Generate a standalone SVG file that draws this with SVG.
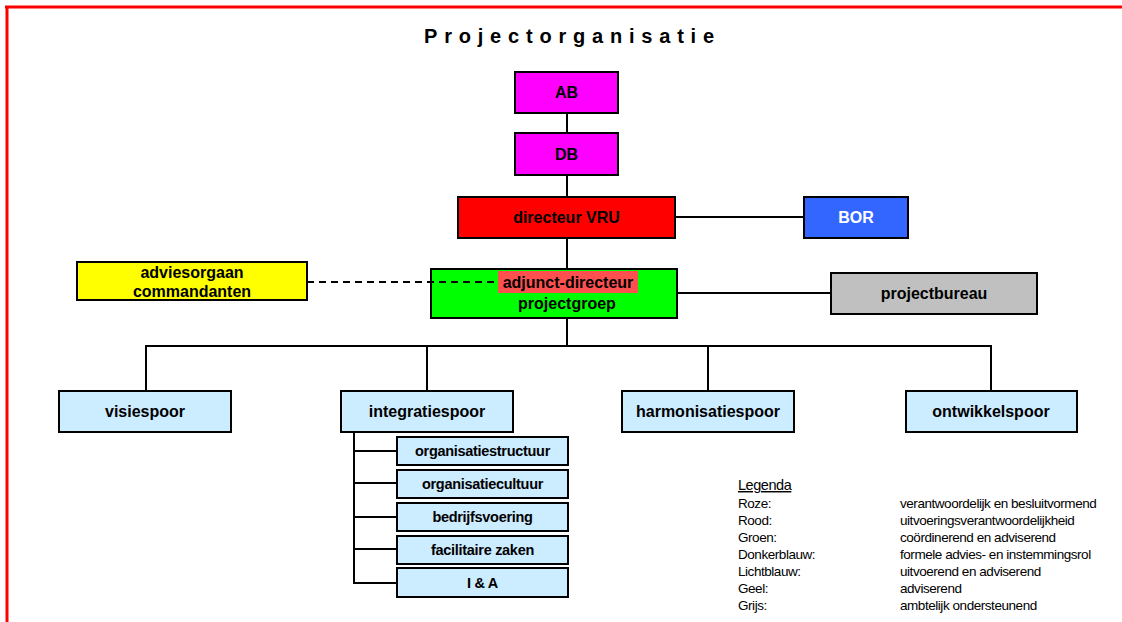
<svg xmlns="http://www.w3.org/2000/svg" width="1122" height="622" viewBox="0 0 1122 622">
<style>
.box{stroke:#000;stroke-width:2}
.lbl{font-family:"Liberation Sans",Arial,sans-serif;font-weight:bold;font-size:16px;fill:#000;text-anchor:middle}
.sub{font-family:"Liberation Sans",Arial,sans-serif;font-weight:bold;font-size:14.5px;letter-spacing:-0.3px;fill:#000;text-anchor:middle}
.leg{font-family:"Liberation Sans",Arial,sans-serif;font-size:13.5px;letter-spacing:-0.45px;fill:#000}
.con{stroke:#000;stroke-width:2;fill:none}
.lb{fill:#CCECFF}
</style>
<rect width="1122" height="622" fill="#fff"/>
<g id="frame">
<line x1="5" y1="7" x2="1122" y2="7" stroke="#FF0000" stroke-width="3"/>
<line x1="7" y1="6" x2="7" y2="622" stroke="#FF0000" stroke-width="3"/>
</g>
<text x="424" y="43" font-family="Liberation Sans,Arial,sans-serif" font-weight="bold" font-size="20" letter-spacing="6.8">Projectorganisatie</text>
<g id="connectors">
<line class="con" x1="567" y1="113" x2="567" y2="133"/>
<line class="con" x1="567" y1="175" x2="567" y2="197"/>
<line class="con" x1="567" y1="238" x2="567" y2="269"/>
<line class="con" x1="567" y1="318" x2="567" y2="346"/>
<line class="con" x1="675" y1="217" x2="804" y2="217"/>
<line class="con" x1="677" y1="293" x2="831" y2="293"/>
<polyline class="con" points="146,391 146,346 991,346 991,391"/>
<line class="con" x1="427" y1="346" x2="427" y2="391"/>
<line class="con" x1="708" y1="346" x2="708" y2="391"/>
<polyline class="con" points="354,432 354,583 397,583"/>
<line class="con" x1="354" y1="451" x2="397" y2="451"/>
<line class="con" x1="354" y1="483" x2="397" y2="483"/>
<line class="con" x1="354" y1="517" x2="397" y2="517"/>
<line class="con" x1="354" y1="549" x2="397" y2="549"/>
</g>
<g id="AB"><rect class="box" x="515" y="72" width="103" height="41" fill="#FF00FF"/><text class="lbl" x="566.5" y="98">AB</text></g>
<g id="DB"><rect class="box" x="515" y="133" width="103" height="42" fill="#FF00FF"/><text class="lbl" x="566.5" y="160">DB</text></g>
<g id="directeur"><rect class="box" x="458" y="197" width="217" height="41" fill="#FF0000"/><text class="lbl" x="566.5" y="223">directeur VRU</text></g>
<g id="BOR"><rect class="box" x="804" y="197" width="104" height="41" fill="#3366FF"/><text class="lbl" x="856" y="223" style="fill:#fff">BOR</text></g>
<g id="projectgroep"><rect class="box" x="431" y="269" width="246" height="49" fill="#00FF00"/>
<rect x="498" y="271" width="140" height="22" fill="#FF5050"/>
<text class="lbl" x="568" y="288">adjunct-directeur</text><text class="lbl" x="567" y="309">projectgroep</text></g>
<g id="adviesorgaan"><rect class="box" x="77" y="262" width="230" height="38" fill="#FFFF00"/>
<text class="lbl" x="192" y="278">adviesorgaan</text><text class="lbl" x="192" y="297">commandanten</text></g>
<line id="dashed" x1="307" y1="282" x2="498" y2="282" stroke="#000" stroke-width="2" stroke-dasharray="7 5"/>
<g id="projectbureau"><rect class="box" x="831" y="273" width="206" height="41" fill="#C0C0C0"/><text class="lbl" x="934" y="299">projectbureau</text></g>
<g id="visiespoor"><rect class="box lb" x="59" y="391" width="172" height="41"/><text class="lbl" x="145" y="417">visiespoor</text></g>
<g id="integratiespoor"><rect class="box lb" x="341" y="391" width="172" height="41"/><text class="lbl" x="427" y="417">integratiespoor</text></g>
<g id="harmonisatiespoor"><rect class="box lb" x="622" y="391" width="172" height="41"/><text class="lbl" x="708" y="417">harmonisatiespoor</text></g>
<g id="ontwikkelspoor"><rect class="box lb" x="906" y="391" width="171" height="41"/><text class="lbl" x="991" y="417">ontwikkelspoor</text></g>
<g id="organisatiestructuur"><rect class="box lb" x="397" y="437" width="171" height="28"/><text class="sub" x="482.5" y="456">organisatiestructuur</text></g>
<g id="organisatiecultuur"><rect class="box lb" x="397" y="470" width="171" height="28"/><text class="sub" x="482.5" y="489">organisatiecultuur</text></g>
<g id="bedrijfsvoering"><rect class="box lb" x="397" y="503" width="171" height="28"/><text class="sub" x="482.5" y="522">bedrijfsvoering</text></g>
<g id="facilitaire"><rect class="box lb" x="397" y="536" width="171" height="28"/><text class="sub" x="482.5" y="555">facilitaire zaken</text></g>
<g id="IA"><rect class="box lb" x="397" y="568" width="171" height="29"/><text class="sub" x="482.5" y="588">I &amp; A</text></g>
<g id="legenda">
<text class="leg" x="738" y="490" text-decoration="underline" style="font-size:14.5px">Legenda</text>
<text class="leg" x="738" y="508">Roze:</text><text class="leg" x="900" y="508">verantwoordelijk en besluitvormend</text>
<text class="leg" x="738" y="525">Rood:</text><text class="leg" x="900" y="525">uitvoeringsverantwoordelijkheid</text>
<text class="leg" x="738" y="542">Groen:</text><text class="leg" x="900" y="542">coördinerend en adviserend</text>
<text class="leg" x="738" y="559">Donkerblauw:</text><text class="leg" x="900" y="559">formele advies- en instemmingsrol</text>
<text class="leg" x="738" y="576">Lichtblauw:</text><text class="leg" x="900" y="576">uitvoerend en adviserend</text>
<text class="leg" x="738" y="593">Geel:</text><text class="leg" x="900" y="593">adviserend</text>
<text class="leg" x="738" y="610">Grijs:</text><text class="leg" x="900" y="610">ambtelijk ondersteunend</text>
</g>
</svg>
